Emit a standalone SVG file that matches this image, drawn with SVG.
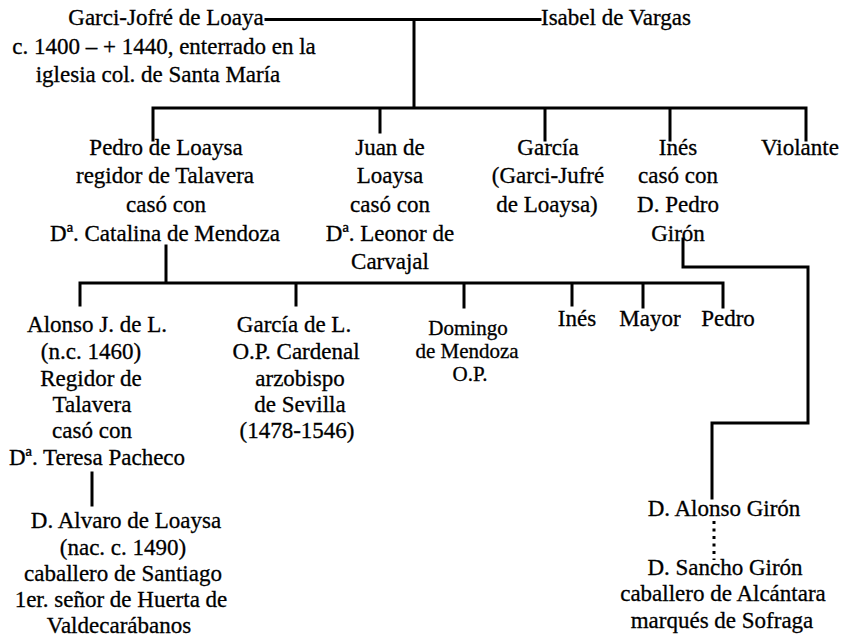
<svg xmlns="http://www.w3.org/2000/svg" width="846" height="644" viewBox="0 0 846 644">
<style>
text{font-family:"Liberation Serif","Times New Roman",serif;font-size:23px;fill:#000;stroke:#000;stroke-width:0.3;text-anchor:middle}
.s{font-size:21px}
.st{text-anchor:start}
.ln{fill:none;stroke:#000;stroke-width:3;stroke-linejoin:miter;stroke-linecap:square}
.dot{fill:none;stroke:#000;stroke-width:3;stroke-dasharray:3 4.5}
</style>
<rect width="846" height="644" fill="#fff"/>
<g id="connectors">
<path class="ln" d="M266,19.5 H540 M414,19.5 V108 M153,108 H806 M153,108 V140 M380,108 V132 M545,108 V140 M670,108 V140 M806,108 V140"/>
<path class="ln" d="M166,246 V283 M80,283 H723 M80,283 V305 M296,283 V305 M464,283 V307 M572,283 V305 M643,283 V307 M723,283 V307"/>
<path class="ln" d="M92,473 V505"/>
<path class="ln" d="M683,239 V267 H808 V423 H712 V498"/>
<path class="dot" d="M714,521 V560"/>
</g>
<g id="n-garci"><text x="166" y="25">Garci-Jofré de Loaya</text><text x="164" y="54">c. 1400 – + 1440, enterrado en la</text><text x="158" y="82">iglesia col. de Santa María</text></g>
<g id="n-isabel"><text class="st" x="541" y="25">Isabel de Vargas</text></g>
<g id="n-pedro"><text x="166" y="155">Pedro de Loaysa</text><text x="165" y="183">regidor de Talavera</text><text x="166" y="212">casó con</text><text x="165" y="241">Dª. Catalina de Mendoza</text></g>
<g id="n-juan"><text x="390" y="155">Juan de</text><text x="390" y="183">Loaysa</text><text x="390" y="212">casó con</text><text x="390" y="241">Dª. Leonor de</text><text x="390" y="269">Carvajal</text></g>
<g id="n-garcia"><text x="548" y="155">García</text><text x="548" y="183">(Garci-Jufré</text><text x="547" y="212">de Loaysa)</text></g>
<g id="n-ines"><text x="678" y="155">Inés</text><text x="678" y="183">casó con</text><text x="678" y="212">D. Pedro</text><text x="678" y="241">Girón</text></g>
<g id="n-violante"><text x="800" y="155">Violante</text></g>
<g id="n-alonso"><text x="97" y="332">Alonso J. de L.</text><text x="91" y="359">(n.c. 1460)</text><text x="91" y="386">Regidor de</text><text x="92" y="412">Talavera</text><text x="92" y="438">casó con</text><text x="97" y="465">Dª. Teresa Pacheco</text></g>
<g id="n-garcial"><text x="294" y="332">García de L.</text><text x="296" y="359">O.P. Cardenal</text><text x="300" y="386">arzobispo</text><text x="300" y="412">de Sevilla</text><text x="297" y="438">(1478-1546)</text></g>
<g id="n-domingo"><text class="s" x="468" y="335">Domingo</text><text class="s" x="467" y="358">de Mendoza</text><text class="s" x="470" y="381">O.P.</text></g>
<g id="n-ines2"><text x="577" y="326">Inés</text></g>
<g id="n-mayor"><text x="650" y="326">Mayor</text></g>
<g id="n-pedro2"><text x="728" y="326">Pedro</text></g>
<g id="n-alvaro"><text x="126" y="528">D. Alvaro de Loaysa</text><text x="123" y="555">(nac. c. 1490)</text><text x="123" y="581">caballero de Santiago</text><text x="121" y="607">1er. señor de Huerta de</text><text x="119" y="633">Valdecarábanos</text></g>
<g id="n-alonsogiron"><text x="724" y="516">D. Alonso Girón</text></g>
<g id="n-sancho"><text x="725" y="575">D. Sancho Girón</text><text x="723" y="601">caballero de Alcántara</text><text x="722" y="628">marqués de Sofraga</text></g>
</svg>
